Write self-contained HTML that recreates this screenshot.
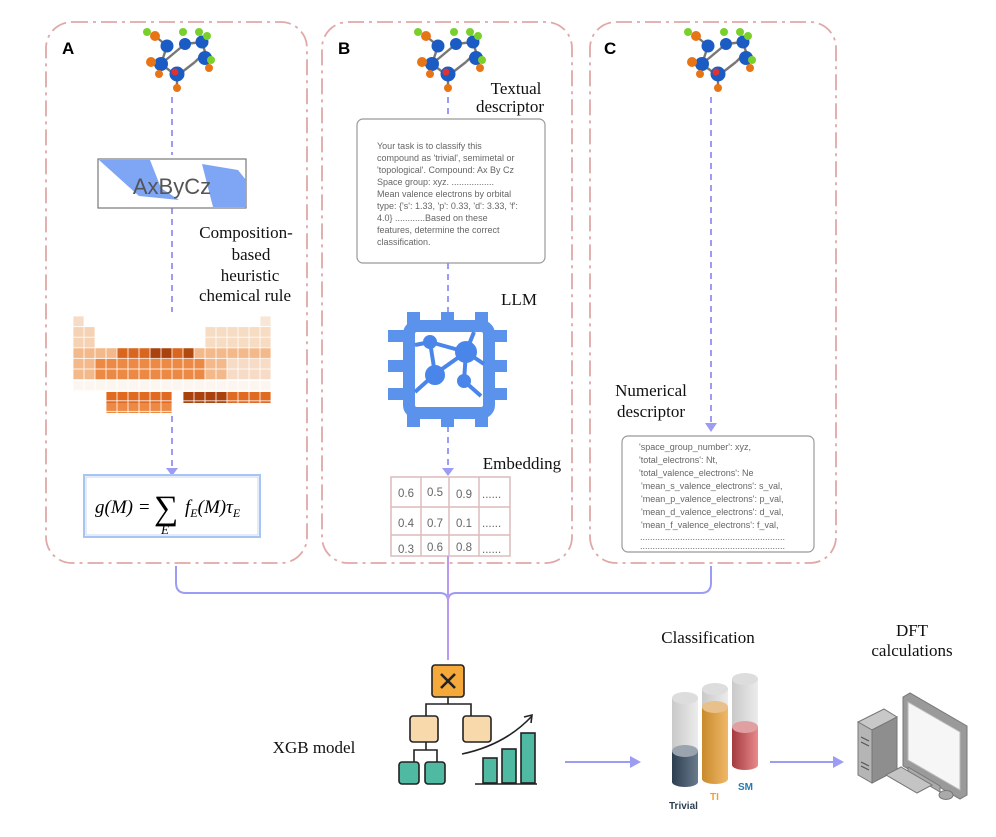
<!DOCTYPE html>
<html><head><meta charset="utf-8"><style>
body{margin:0;background:#fff;}
svg{display:block;}
.s{font-family:"Liberation Serif",serif;font-size:17px;fill:#111;}
.a{font-family:"Liberation Sans",sans-serif;}
</style></head><body>
<svg width="996" height="837" viewBox="0 0 996 837" xmlns="http://www.w3.org/2000/svg">
<defs>
<pattern id="g" x="73" y="316" width="11" height="10.6" patternUnits="userSpaceOnUse"><rect width="11" height="10.6" fill="none" stroke="#fff" stroke-width="0.8"/></pattern>
<linearGradient id="c1" x1="0" x2="1"><stop offset="0" stop-color="#2c3e50"/><stop offset="1" stop-color="#6a7b8c"/></linearGradient>
<linearGradient id="c2" x1="0" x2="1"><stop offset="0" stop-color="#c98a2c"/><stop offset="1" stop-color="#f0b868"/></linearGradient>
<linearGradient id="c3" x1="0" x2="1"><stop offset="0" stop-color="#a33a3e"/><stop offset="1" stop-color="#e88a8c"/></linearGradient>
<linearGradient id="cg" x1="0" x2="1"><stop offset="0" stop-color="#c9c9c9"/><stop offset="1" stop-color="#ececec"/></linearGradient>
<g id="mol">
<g stroke="#777" stroke-width="2.4"><line x1="0" y1="12" x2="-16" y2="0"/><line x1="-16" y1="0" x2="-10" y2="-18"/><line x1="-10" y1="-18" x2="-22" y2="-28"/><line x1="0" y1="12" x2="18" y2="-2"/><line x1="18" y1="-2" x2="28" y2="-12"/><line x1="28" y1="-12" x2="25" y2="-22"/><line x1="25" y1="-22" x2="8" y2="-20"/><line x1="8" y1="-20" x2="-16" y2="0"/><line x1="0" y1="12" x2="0" y2="24"/></g>
<circle cx="-16" cy="0" r="7" fill="#1a5bc4"/><circle cx="-10" cy="-18" r="6.5" fill="#1a5bc4"/><circle cx="8" cy="-20" r="6" fill="#1a5bc4"/><circle cx="25" cy="-22" r="6.5" fill="#1a5bc4"/><circle cx="28" cy="-6" r="7" fill="#1a5bc4"/><circle cx="0" cy="10" r="7.5" fill="#1a5bc4"/><circle cx="-2" cy="8" r="3.5" fill="#d33"/>
<circle cx="-22" cy="-28" r="5" fill="#e87515"/><circle cx="-30" cy="-32" r="4" fill="#7ad02a"/><circle cx="-26" cy="-2" r="5" fill="#e87515"/><circle cx="-18" cy="10" r="4" fill="#e87515"/><circle cx="0" cy="24" r="4" fill="#e87515"/><circle cx="34" cy="-4" r="4" fill="#7ad02a"/><circle cx="32" cy="4" r="4" fill="#e87515"/><circle cx="6" cy="-32" r="4" fill="#7ad02a"/><circle cx="22" cy="-32" r="4" fill="#7ad02a"/><circle cx="30" cy="-28" r="4" fill="#7ad02a"/>
</g>
</defs>

<!-- panels -->
<g fill="none" stroke="#e0a8a8" stroke-width="1.8" stroke-dasharray="16,5,3,5">
<rect x="46" y="22" width="261" height="541" rx="26"/>
<rect x="322" y="22" width="250" height="541" rx="26"/>
<rect x="590" y="22" width="246" height="541" rx="26"/>
</g>
<text x="62" y="54" class="a" font-size="17" font-weight="bold">A</text>
<text x="338" y="54" class="a" font-size="17" font-weight="bold">B</text>
<text x="604" y="54" class="a" font-size="17" font-weight="bold">C</text>

<use href="#mol" x="177" y="64"/>
<use href="#mol" x="448" y="64"/>
<use href="#mol" x="718" y="64"/>

<!-- dashed connectors -->
<g stroke="#9c9cf5" stroke-width="2" stroke-dasharray="6,5" fill="none">
<line x1="172" y1="97" x2="172" y2="155"/>
<line x1="172" y1="208" x2="172" y2="312"/>
<line x1="172" y1="416" x2="172" y2="470"/>
<line x1="448" y1="97" x2="448" y2="118"/>
<line x1="448" y1="263" x2="448" y2="312"/>
<line x1="448" y1="426" x2="448" y2="470"/>
<line x1="711" y1="97" x2="711" y2="425"/>
</g>
<g fill="#9c9cf5">
<path d="M166,468 L178,468 L172,476Z"/>
<path d="M442,468 L454,468 L448,476Z"/>
<path d="M705,423 L717,423 L711,432Z"/>
</g>

<!-- AxByCz -->
<rect x="98" y="159" width="148" height="49" fill="#fff" stroke="#777" stroke-width="1.2"/>
<path d="M99,160 L150,160 L161,188 L179,200 L139,196 Z" fill="#7ea6f5"/>
<path d="M202,164 L238,170 L246,180 L246,207 L213,207 Z" fill="#7ea6f5"/>
<text x="172" y="194" class="a" font-size="22" fill="#555" text-anchor="middle">AxByCz</text>

<g class="s" text-anchor="middle"><text x="246" y="238">Composition-</text><text x="251" y="260">based</text><text x="250" y="281">heuristic</text><text x="245" y="301">chemical rule</text></g>

<!-- periodic table -->
<g>
<rect x="73" y="316" width="11" height="10.6" fill="#f6dcc6"/><rect x="260" y="316" width="11" height="10.6" fill="#f8e6d6"/>
<rect x="73" y="327" width="22" height="21" fill="#f5d2b4"/><rect x="205" y="327" width="66" height="21" fill="#f7dcc4"/>
<rect x="73" y="348" width="198" height="32" fill="#f3b98a"/>
<rect x="117" y="348" width="77" height="11" fill="#d9661f"/><rect x="150" y="348" width="22" height="11" fill="#a9420d"/><rect x="183" y="348" width="11" height="11" fill="#b24a10"/>
<rect x="95" y="359" width="110" height="21" fill="#ec8a45"/><rect x="227" y="359" width="44" height="21" fill="#f6dcc6"/>
<rect x="73" y="381" width="198" height="10" fill="#fdf6f0"/>
<rect x="106" y="392" width="165" height="11" fill="#e06a22"/><rect x="172" y="392" width="11" height="11" fill="#fff"/><rect x="183" y="392" width="44" height="11" fill="#a9420d"/>
<rect x="106" y="403" width="66" height="10" fill="#ec8a45"/><rect x="172" y="403" width="99" height="10" fill="#fff"/>
<rect x="73" y="316" width="198" height="97" fill="url(#g)"/>
</g>

<!-- formula box -->
<rect x="84" y="475" width="176" height="62" fill="#fff" stroke="#a8c4f2" stroke-width="2"/>
<rect x="86" y="477" width="172" height="58" fill="none" stroke="#c8daf6" stroke-width="1"/>
<text x="95" y="513" font-family="Liberation Serif,serif" font-size="19" font-style="italic">g(M) =</text>
<text x="154" y="519" font-family="Liberation Serif,serif" font-size="34">∑</text>
<text x="161" y="534" font-family="Liberation Serif,serif" font-size="13" font-style="italic">E</text>
<text x="185" y="513" font-family="Liberation Serif,serif" font-size="19" font-style="italic">f<tspan font-size="12" dy="4">E</tspan><tspan dy="-4">(M)τ</tspan><tspan font-size="12" dy="4">E</tspan></text>

<!-- B -->
<text x="516" y="94" class="s" text-anchor="middle">Textual</text>
<text x="510" y="112" class="s" text-anchor="middle">descriptor</text>
<rect x="357" y="119" width="188" height="144" rx="6" fill="#fff" stroke="#999" stroke-width="1.2"/>
<g class="a" font-size="9" fill="#666">
<text x="377" y="149">Your task is to classify this</text>
<text x="377" y="161">compound as 'trivial', semimetal or</text>
<text x="377" y="173">'topological'. Compound: Ax By Cz</text>
<text x="377" y="185">Space group: xyz.  .................</text>
<text x="377" y="197">Mean valence electrons by orbital</text>
<text x="377" y="209">type: {'s': 1.33, 'p': 0.33, 'd': 3.33, 'f':</text>
<text x="377" y="221">4.0} ............Based on these</text>
<text x="377" y="233">features, determine the correct</text>
<text x="377" y="245">classification.</text>
</g>
<text x="519" y="305" class="s" text-anchor="middle">LLM</text>
<!-- chip -->
<g fill="#5b93ec">
<rect x="407" y="312" width="13" height="16"/><rect x="441" y="312" width="13" height="16"/><rect x="475" y="312" width="13" height="16"/>
<rect x="407" y="411" width="13" height="16"/><rect x="441" y="411" width="13" height="16"/><rect x="475" y="411" width="13" height="16"/>
<rect x="388" y="330" width="16" height="12"/><rect x="388" y="360" width="16" height="12"/><rect x="388" y="388" width="16" height="12"/>
<rect x="491" y="330" width="16" height="12"/><rect x="491" y="360" width="16" height="12"/><rect x="491" y="388" width="16" height="12"/>
</g>
<rect x="409" y="326" width="80" height="87" rx="8" fill="none" stroke="#5b93ec" stroke-width="12"/>
<g stroke="#4a86ea" stroke-width="4" fill="#4a86ea">
<line x1="415" y1="345" x2="430" y2="342"/><line x1="430" y1="342" x2="435" y2="374"/><line x1="430" y1="342" x2="466" y2="352"/><line x1="466" y1="352" x2="474" y2="332"/><line x1="466" y1="352" x2="484" y2="364"/><line x1="435" y1="374" x2="466" y2="352"/><line x1="435" y1="374" x2="415" y2="392"/><line x1="466" y1="352" x2="464" y2="381"/><line x1="464" y1="381" x2="481" y2="396"/>
<circle cx="430" cy="342" r="5"/><circle cx="466" cy="352" r="9"/><circle cx="435" cy="375" r="8"/><circle cx="464" cy="381" r="5"/>
</g>
<text x="522" y="469" class="s" text-anchor="middle">Embedding</text>
<g fill="none" stroke="#dcbcbc" stroke-width="1.5">
<rect x="391" y="477" width="119" height="79"/>
<line x1="421" y1="477" x2="421" y2="556"/><line x1="449" y1="477" x2="449" y2="556"/><line x1="479" y1="477" x2="479" y2="556"/>
<line x1="391" y1="507" x2="510" y2="507"/><line x1="391" y1="535" x2="510" y2="535"/>
</g>
<g class="a" font-size="11.5" fill="#666">
<text x="398" y="497">0.6</text><text x="427" y="496">0.5</text><text x="456" y="498">0.9</text><text x="482" y="498">......</text>
<text x="398" y="527">0.4</text><text x="427" y="527">0.7</text><text x="456" y="527">0.1</text><text x="482" y="527">......</text>
<text x="398" y="553">0.3</text><text x="427" y="551">0.6</text><text x="456" y="551">0.8</text><text x="482" y="553">......</text>
</g>

<!-- C -->
<text x="651" y="396" class="s" text-anchor="middle">Numerical</text>
<text x="651" y="417" class="s" text-anchor="middle">descriptor</text>
<rect x="622" y="436" width="192" height="116" rx="6" fill="#fff" stroke="#999" stroke-width="1.2"/>
<g class="a" font-size="9" fill="#666">
<text x="639" y="450">'space_group_number': xyz,</text>
<text x="639" y="463">'total_electrons': Nt,</text>
<text x="639" y="476">'total_valence_electrons': Ne</text>
<text x="641" y="489">'mean_s_valence_electrons': s_val,</text>
<text x="641" y="502">'mean_p_valence_electrons': p_val,</text>
<text x="641" y="515">'mean_d_valence_electrons': d_val,</text>
<text x="641" y="528">'mean_f_valence_electrons': f_val,</text>
<text x="640" y="540">..........................................................</text>
<text x="640" y="549">..........................................................</text>
</g>

<!-- bracket -->
<path d="M176,566 L176,583 Q176,593 186,593 L440,593 Q448,593 448,601 Q448,593 456,593 L701,593 Q711,593 711,583 L711,566" fill="none" stroke="#9c9cf5" stroke-width="2"/>
<line x1="448" y1="556" x2="448" y2="660" stroke="#bb99f0" stroke-width="2"/>

<!-- XGB -->
<text x="314" y="753" class="s" text-anchor="middle">XGB model</text>
<g stroke="#222" stroke-width="1.6">
<path d="M448,697 V704 M426,716 V704 H471 V716 M426,742 V750 M414,762 V750 H437 V762" fill="none"/>
<rect x="432" y="665" width="32" height="32" rx="3" fill="#f4a93a"/>
<path d="M441,674 L455,688 M455,674 L441,688" stroke-width="2.6"/>
<rect x="410" y="716" width="28" height="26" rx="3" fill="#f8d9ac"/>
<rect x="463" y="716" width="28" height="26" rx="3" fill="#f8d9ac"/>
<rect x="399" y="762" width="20" height="22" rx="3" fill="#4fb9a2"/>
<rect x="425" y="762" width="20" height="22" rx="3" fill="#4fb9a2"/>
<rect x="483" y="758" width="14" height="25" fill="#4fb9a2"/>
<rect x="502" y="749" width="14" height="34" fill="#4fb9a2"/>
<rect x="521" y="733" width="14" height="50" fill="#4fb9a2"/>
<line x1="475" y1="784" x2="537" y2="784"/>
<path d="M462,754 Q505,745 532,716" fill="none"/><path d="M524,717 L532,715 L531,723" fill="none"/>
</g>

<!-- arrows -->
<g stroke="#9c9cf5" stroke-width="2"><line x1="565" y1="762" x2="632" y2="762"/><line x1="770" y1="762" x2="835" y2="762"/></g>
<path d="M630,756 L641,762 L630,768Z" fill="#9c9cf5"/><path d="M833,756 L844,762 L833,768Z" fill="#9c9cf5"/>

<!-- classification -->
<text x="708" y="643" class="s" text-anchor="middle">Classification</text>
<rect x="672" y="698" width="26" height="84" fill="url(#cg)"/><ellipse cx="685" cy="698" rx="13" ry="6" fill="#ddd"/>
<rect x="672" y="751" width="26" height="31" fill="url(#c1)"/><ellipse cx="685" cy="751" rx="13" ry="6" fill="#9aa4ae"/><ellipse cx="685" cy="782" rx="13" ry="5" fill="url(#c1)"/>
<rect x="702" y="689" width="26" height="90" fill="url(#cg)"/><ellipse cx="715" cy="689" rx="13" ry="6" fill="#ddd"/>
<rect x="702" y="707" width="26" height="72" fill="url(#c2)"/><ellipse cx="715" cy="707" rx="13" ry="6" fill="#e8c08a"/><ellipse cx="715" cy="779" rx="13" ry="5" fill="url(#c2)"/>
<rect x="732" y="679" width="26" height="86" fill="url(#cg)"/><ellipse cx="745" cy="679" rx="13" ry="6" fill="#ddd"/>
<rect x="732" y="727" width="26" height="38" fill="url(#c3)"/><ellipse cx="745" cy="727" rx="13" ry="6" fill="#e0a0a2"/><ellipse cx="745" cy="765" rx="13" ry="5" fill="url(#c3)"/>
<text x="669" y="809" class="a" font-size="10" font-weight="bold" fill="#2c3e50">Trivial</text>
<text x="710" y="800" class="a" font-size="10" font-weight="bold" fill="#f0a030">TI</text>
<text x="738" y="790" class="a" font-size="10" font-weight="bold" fill="#2a7ab0">SM</text>

<!-- DFT -->
<text x="912" y="636" class="s" text-anchor="middle">DFT</text>
<text x="912" y="656" class="s" text-anchor="middle">calculations</text>
<g stroke="#777" stroke-width="1">
<path d="M858,722 L884,709 L897,717 L872,730Z" fill="#c8c8c8"/>
<path d="M858,722 L872,730 L872,783 L858,775Z" fill="#b5b5b5"/>
<path d="M872,730 L897,717 L897,770 L872,783Z" fill="#8e8e8e"/>
<path d="M903,697 L910,693 L967,726 L967,795 L960,799 L903,766Z" fill="#9a9a9a"/>
<path d="M908,702 L960,732 L960,790 L908,760Z" fill="#f6f6f6" stroke="#bbb"/>
<path d="M908,767 L940,786 L940,792 L908,773Z" fill="#aaa"/>
<path d="M886,775 L901,767 L932,785 L917,793Z" fill="#c4c4c4"/>
<ellipse cx="946" cy="795" rx="7" ry="4.5" fill="#aaa"/>
</g>
<g stroke="#555" stroke-width="1.2"><line x1="861" y1="737" x2="869" y2="741"/><line x1="861" y1="742" x2="869" y2="746"/><line x1="861" y1="762" x2="869" y2="766"/><line x1="861" y1="766" x2="869" y2="770"/></g>
</svg>
</body></html>
